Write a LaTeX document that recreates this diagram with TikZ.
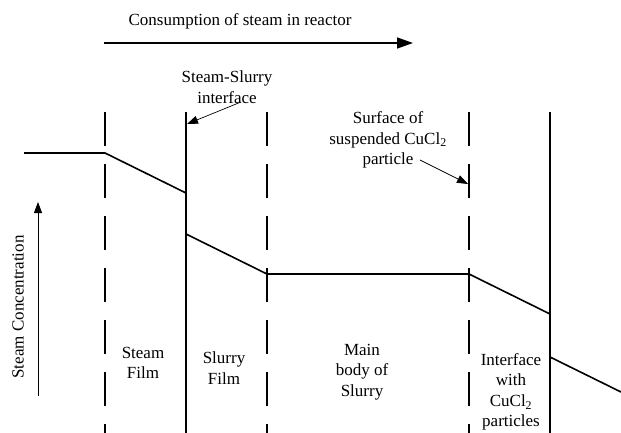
\documentclass[tikz,border=0pt]{standalone}
\usepackage{fontspec}
\setmainfont{Liberation Serif}
\usetikzlibrary{arrows.meta}
\begin{document}
\begin{tikzpicture}[x=1pt,y=-1pt,>=Stealth,
    lbl/.style={align=center,font=\fontsize{17}{20.5}\selectfont,inner sep=0pt},
    wall/.style={line width=1.6pt},
    film/.style={line width=1.6pt,dash pattern=on 34pt off 18pt},
    prof/.style={line width=1.6pt,line join=round},
    note/.style={-{Stealth[length=11pt,width=8pt,inset=0pt]},line width=0.7pt}]
    \useasboundingbox (0,0) rectangle (621,433);

    % Sentido del consumo
    \node[lbl] (cons) at (240,21) {Consumption of steam in reactor};
    \coordinate (c0) at (104,43);
    \coordinate (c1) at (413,43);
    \draw[-{Stealth[length=16pt,width=11pt,inset=0pt]},line width=1.6pt] (c0) -- (c1);

    % Fronteras entre zonas
    \foreach \name/\x/\s in {sf/105/film,si/186/wall,lf/267/film,ps/469/film,pi/550/wall} {
        \coordinate (\name-t) at (\x,112);
        \coordinate (\name-b) at (\x,433);
        \draw[\s] (\name-t) -- (\name-b);
    }

    % Perfil de concentracion
    \coordinate (p0) at (24,153);
    \coordinate (p1) at (105,153);
    \coordinate (p2) at (186,193);
    \coordinate (p3) at (186,234);
    \coordinate (p4) at (267,274);
    \coordinate (p5) at (469,274);
    \coordinate (p6) at (550,314);
    \coordinate (p7) at (550,357);
    \coordinate (p8) at (621,392);
    \draw[prof] (p0) -- (p1) -- (p2);
    \draw[prof] (p3) -- (p4) -- (p5) -- (p6);
    \draw[prof] (p7) -- (p8);

    % Etiquetas de las superficies
    \node[lbl] (ssi) at (227,87) {Steam-Slurry\\interface};
    \coordinate (ssi-e) at (241,102);
    \coordinate (ssi-h) at (187,124);
    \draw[note] (ssi-e) -- (ssi-h);
    \node[lbl] (surf) at (388,140) {Surface of\\suspended CuCl\textsubscript{2}\\particle};
    \coordinate (surf-e) at (420,160);
    \coordinate (surf-h) at (468,184);
    \draw[note] (surf-e) -- (surf-h);

    % Eje de concentracion
    \node[lbl,rotate=90] (conc) at (18,307) {Steam Concentration};
    \coordinate (a0) at (38,396);
    \coordinate (a1) at (38,202);
    \draw[note,line width=0.8pt] (a0) -- (a1);

    % Zonas
    \node[lbl] (steam) at (143,363) {Steam\\Film};
    \node[lbl] (slurry) at (224,368) {Slurry\\Film};
    \node[lbl] (main) at (362,372) {Main\\body of\\Slurry};
    \node[lbl] (intf) at (511,392) {Interface\\with\\CuCl\textsubscript{2}\\particles};
\end{tikzpicture}
\end{document}
